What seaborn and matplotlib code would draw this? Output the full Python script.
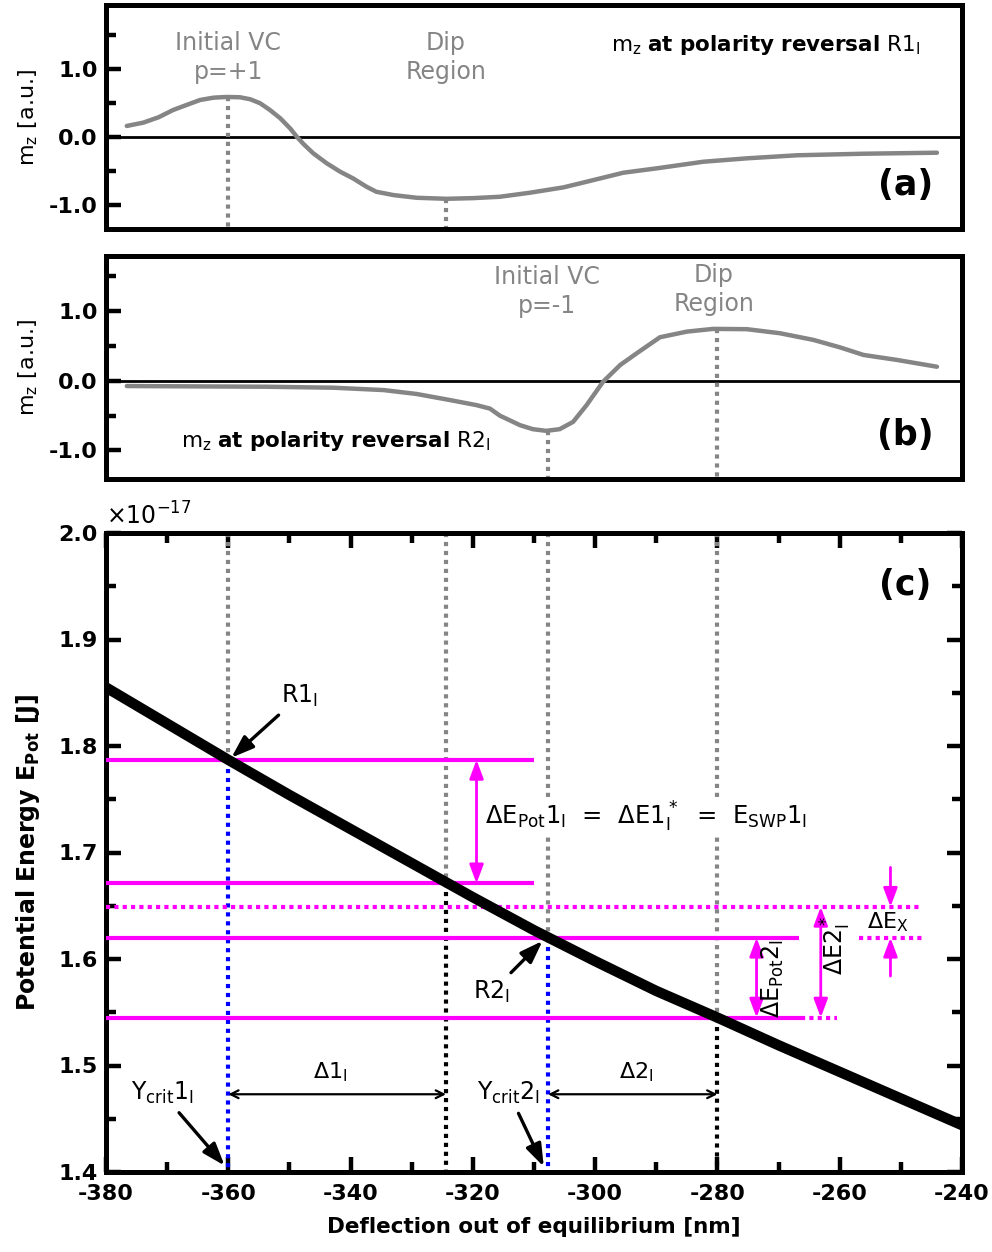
import numpy as np
import pandas as pd
import matplotlib
matplotlib.use("Agg")
import matplotlib.pyplot as plt
import seaborn as sns

sns.set_style("ticks")
plt.rcParams['font.family'] = ['DejaVu Sans']
plt.rcParams['axes.unicode_minus'] = False
plt.rcParams['mathtext.fontset'] = 'dejavusans'
for k in ['axes.edgecolor', 'xtick.color', 'ytick.color', 'text.color', 'axes.labelcolor']:
    plt.rcParams[k] = 'black'

# ---------------- data ----------------
a_x = [-376.6, -373.9, -371.4, -369.0, -366.8, -364.6, -362.4, -360.3, -358.1, -356.4,
       -354.8, -353.2, -351.5, -349.9, -348.8, -347.7, -346.1, -343.9, -341.7, -339.6,
       -337.4, -335.8, -333.0, -329.2, -324.3, -319.9, -315.6, -310.7, -305.2, -301.4,
       -295.4, -289.9, -282.3, -275.2, -267.0, -256.1, -244.1]
a_mz = [0.158, 0.207, 0.286, 0.394, 0.468, 0.541, 0.575, 0.585, 0.581, 0.551,
        0.493, 0.394, 0.271, 0.124, 0.0, -0.108, -0.245, -0.392, -0.516, -0.614,
        -0.737, -0.811, -0.860, -0.900, -0.915, -0.905, -0.885, -0.826, -0.747, -0.664,
        -0.531, -0.466, -0.369, -0.319, -0.274, -0.251, -0.236]

b_x = [-376.6, -353.7, -342.8, -334.6, -329.2, -323.7, -319.4, -317.2, -315.6, -312.3,
       -310.2, -308.0, -305.8, -303.6, -301.4, -298.7, -295.9, -293.2, -289.4, -285.0,
       -280.7, -275.2, -269.8, -264.3, -260.0, -256.1, -250.6, -244.1]
b_mz = [-0.076, -0.086, -0.10, -0.134, -0.19, -0.278, -0.35, -0.40, -0.50, -0.637,
        -0.695, -0.719, -0.695, -0.59, -0.35, -0.014, 0.226, 0.394, 0.624, 0.705,
        0.744, 0.740, 0.682, 0.586, 0.48, 0.37, 0.298, 0.201]

e_x = [-380, -370, -360, -350, -340, -330, -320, -310, -300, -290, -280, -270, -260, -250, -240]
e_pot = [1.855, 1.821, 1.787, 1.754, 1.722, 1.690, 1.658, 1.627, 1.598, 1.570,
         1.545, 1.519, 1.494, 1.469, 1.444]  # units of 1e-17 J

marker_x = [-360.0, -324.4, -307.7, -280.0]
marker_e = [1.787, 1.671, 1.620, 1.545]
marker_low_color = ['#0000ff', 'black', '#0000ff', 'black']

a_mark_x = [-360.0, -324.4]
a_mark_mz = [0.585, -0.915]
b_mark_x = [-307.7, -280.0]
b_mark_mz = [-0.719, 0.744]

# magenta levels: (y, x_start, x_end)
mag_solid = [(1.787, -380, -310), (1.671, -380, -310), (1.620, -380, -266.6), (1.545, -380, -266.4)]
mag_dotted = [(1.649, -380, -246.5), (1.620, -256.8, -246.5), (1.545, -266.4, -260.5)]

GRAY = '#858585'
MAG = '#ff00ff'
DOTS = (0, (1.0, 1.15))
dotted_gray = dict(color=GRAY, lw=3.0, linestyle=DOTS, dash_capstyle='butt')

fig = plt.figure(figsize=(9.92, 12.52), dpi=100)
L, W = 106 / 992, 856 / 992
ax_a = fig.add_axes([L, 1 - 229 / 1252, W, 224 / 1252])
ax_b = fig.add_axes([L, 1 - 479 / 1252, W, 223 / 1252])
ax_c = fig.add_axes([L, 1 - 1172 / 1252, W, 639 / 1252])

SP = 3.6
for ax in (ax_a, ax_b, ax_c):
    for s in ax.spines.values():
        s.set_linewidth(SP)
        s.set_visible(True)
        s.set_color('black')
    ax.set_xlim(-380, -240)

TICKFS = 16

def style_mz(ax, ylim):
    ax.set_ylim(*ylim)
    ax.set_yticks([-1.0, 0.0, 1.0])
    ax.set_yticklabels(['-1.0', '0.0', '1.0'])
    ax.set_yticks([-0.5, 0.5, 1.5], minor=True)
    ax.set_xticks([])
    ax.tick_params(axis='y', which='major', direction='in', length=11, width=3.2,
                   labelsize=TICKFS, pad=6)
    ax.tick_params(axis='y', which='minor', direction='in', length=7, width=3.2)
    for lab in ax.get_yticklabels():
        lab.set_fontweight('bold')
    ax.set_ylabel(r'm$_\mathrm{z}$ [a.u.]', fontsize=16, labelpad=6)
    ax.axhline(0, color='black', lw=2.0, zorder=2)

# ---------- panel (a) ----------
style_mz(ax_a, (-1.36, 1.94))
sns.lineplot(x=a_x, y=a_mz, ax=ax_a, color=GRAY, lw=3.2, estimator=None, zorder=3)
for xm, ym in zip(a_mark_x, a_mark_mz):
    ax_a.plot([xm, xm], [ym, -1.36], **dotted_gray, zorder=2)
ax_a.text(-360, 1.17, 'Initial VC\np=+1', color=GRAY, fontsize=17, ha='center', va='center',
          linespacing=1.25)
ax_a.text(-324.4, 1.17, 'Dip\nRegion', color=GRAY, fontsize=17, ha='center', va='center',
          linespacing=1.25)
ax_a.text(-272.2, 1.35, r'm$_\mathrm{z}$ $\mathbf{at\ polarity\ reversal}$ R1$_\mathrm{I}$',
          fontsize=15.5, ha='center', va='center')
ax_a.text(-249.3, -0.71, '(a)', fontsize=25, fontweight='bold', ha='center', va='center')

# ---------- panel (b) ----------
style_mz(ax_b, (-1.41, 1.79))
sns.lineplot(x=b_x, y=b_mz, ax=ax_b, color=GRAY, lw=3.2, estimator=None, zorder=3)
for xm, ym in zip(b_mark_x, b_mark_mz):
    ax_b.plot([xm, xm], [ym, -1.41], **dotted_gray, zorder=2)
ax_b.text(-307.9, 1.28, 'Initial VC\np=-1', color=GRAY, fontsize=17, ha='center', va='center',
          linespacing=1.25)
ax_b.text(-280.6, 1.31, 'Dip\nRegion', color=GRAY, fontsize=17, ha='center', va='center',
          linespacing=1.25)
ax_b.text(-342.4, -0.87, r'm$_\mathrm{z}$ $\mathbf{at\ polarity\ reversal}$ R2$_\mathrm{I}$',
          fontsize=15.5, ha='center', va='center')
ax_b.text(-249.3, -0.78, '(b)', fontsize=25, fontweight='bold', ha='center', va='center')

# ---------- panel (c) ----------
ax = ax_c
ax.set_ylim(1.4, 2.0)
ax.set_yticks([1.4, 1.5, 1.6, 1.7, 1.8, 1.9, 2.0])
ax.set_yticklabels(['1.4', '1.5', '1.6', '1.7', '1.8', '1.9', '2.0'])
ax.set_yticks(np.arange(1.45, 2.0, 0.1), minor=True)
ax.set_xticks(np.arange(-380, -239, 20))
ax.set_xticklabels([str(v) for v in range(-380, -239, 20)])
ax.set_xticks(np.arange(-370, -240, 20), minor=True)
ax.tick_params(which='both', direction='in', top=True, right=True, width=3.2, labelsize=TICKFS)
ax.tick_params(which='major', length=11)
ax.tick_params(axis='x', which='major', pad=9)
ax.tick_params(axis='y', which='major', pad=6)
ax.tick_params(which='minor', length=7)
for lab in ax.get_xticklabels() + ax.get_yticklabels():
    lab.set_fontweight('bold')
ax.set_xlabel('Deflection out of equilibrium [nm]', fontsize=15.5, fontweight='bold', labelpad=9)
ax.set_ylabel(r'Potential Energy E$_\mathbf{Pot}$ [J]', fontsize=17, fontweight='bold', labelpad=12)
ax.text(0.0, 1.006, r'$\times10^{-17}$', transform=ax.transAxes, fontsize=17, ha='left', va='bottom')

# vertical marker lines
for xm, ym, cl in zip(marker_x, marker_e, marker_low_color):
    ax.plot([xm, xm], [2.0, ym], **dotted_gray, zorder=2)
    ax.plot([xm, xm], [ym, 1.4], color=cl, lw=3.0, linestyle=DOTS,
            dash_capstyle='butt', zorder=2)

# magenta levels
for y, x0, x1 in mag_solid:
    ax.plot([x0, x1], [y, y], color=MAG, lw=3.0, solid_capstyle='butt', zorder=3)
for y, x0, x1 in mag_dotted:
    ax.plot([x0, x1], [y, y], color=MAG, lw=3.0, linestyle=(0, (1.0, 1.0)),
            dash_capstyle='butt', zorder=3)

# energy curve
sns.lineplot(x=e_x, y=e_pot, ax=ax, color='black', lw=7.5, estimator=None, zorder=4)

# magenta double arrows
def darrow(x, y0, y1, color=MAG, style='<|-|>', lw=2.0, ms=14):
    ax.annotate('', xy=(x, y1), xytext=(x, y0),
                arrowprops=dict(arrowstyle=style + ',head_width=0.3,head_length=0.8',
                                color=color, lw=lw, shrinkA=0, shrinkB=0,
                                mutation_scale=ms), zorder=5)

darrow(-319.4, 1.671, 1.787)
darrow(-273.6, 1.545, 1.620)
darrow(-263.1, 1.545, 1.649)
darrow(-251.7, 1.686, 1.649, style='-|>')
darrow(-251.7, 1.584, 1.620, style='-|>')

ax.text(-318.0, 1.733,
        r'$\Delta$E$_\mathrm{Pot}$1$_\mathrm{I}$  =  $\Delta$E1$_\mathrm{I}^*$  =  E$_\mathrm{SWP}$1$_\mathrm{I}$',
        fontsize=17.5, ha='left', va='center', zorder=6,
        bbox=dict(facecolor='white', edgecolor='none', pad=2))
ax.text(-270.9, 1.582, r'$\Delta$E$_\mathrm{Pot}$2$_\mathrm{I}$', fontsize=17, rotation=90,
        ha='center', va='center', zorder=6)
ax.text(-260.6, 1.613, r'$\Delta$E2$_\mathrm{I}^*$', fontsize=17, rotation=90,
        ha='center', va='center', zorder=6)
ax.text(-252.1, 1.635, r'$\Delta$E$_\mathrm{X}$', fontsize=16, ha='center', va='center', zorder=6)

# black arrows / labels
def label_arrow(txt, xt, yt, xh, yh):
    ax.annotate(txt, xy=(xh, yh), xytext=(xt, yt), fontsize=17, ha='center', va='center',
                arrowprops=dict(arrowstyle='-|>,head_width=0.3,head_length=0.85',
                                color='black', lw=2.4, mutation_scale=16,
                                shrinkA=3, shrinkB=0), zorder=6)

label_arrow(r'R1$_\mathrm{I}$', -348.3, 1.847, -359.5, 1.789)
label_arrow(r'R2$_\mathrm{I}$', -316.9, 1.569, -308.6, 1.617)
label_arrow(r'Y$_\mathrm{crit}$1$_\mathrm{I}$', -370.8, 1.474, -360.6, 1.406)
label_arrow(r'Y$_\mathrm{crit}$2$_\mathrm{I}$', -314.1, 1.474, -308.4, 1.405)

ax.annotate('', xy=(-324.4, 1.473), xytext=(-360, 1.473),
            arrowprops=dict(arrowstyle='<->', color='black', lw=1.6, shrinkA=0, shrinkB=0,
                            mutation_scale=14), zorder=5)
ax.annotate('', xy=(-280, 1.473), xytext=(-307.7, 1.473),
            arrowprops=dict(arrowstyle='<->', color='black', lw=1.6, shrinkA=0, shrinkB=0,
                            mutation_scale=14), zorder=5)
ax.text(-343.4, 1.494, r'$\Delta$1$_\mathrm{I}$', fontsize=16, ha='center', va='center')
ax.text(-293.2, 1.494, r'$\Delta$2$_\mathrm{I}$', fontsize=16, ha='center', va='center')
ax.text(-249.3, 1.951, '(c)', fontsize=25, fontweight='bold', ha='center', va='center')

fig.savefig('out.png', dpi=100)
